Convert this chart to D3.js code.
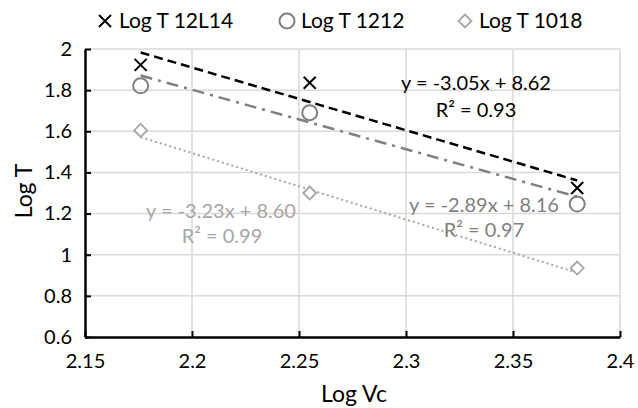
<!DOCTYPE html>
<html><head><meta charset="utf-8">
<script src="https://cdn.jsdelivr.net/npm/d3@7"></script>
<style>body{margin:0;background:#fff}svg{display:block}text{font-family:Lato,"Open Sans",sans-serif}</style>
</head><body><svg id="c" width="638" height="408"></svg>
<script>
const logVc = [2.176, 2.255, 2.380];
const seriesNames = ["Log T 12L14", "Log T 1212", "Log T 1018"];
const logT12L14 = [1.923, 1.836, 1.324];
const logT1212 = [1.821, 1.690, 1.246];
const logT1018 = [1.604, 1.300, 0.935];
const slopes = [-3.05, -2.89, -3.23];
const intercepts = [8.62, 8.16, 8.60];
const r2 = ["0.93", "0.97", "0.99"];
const xTicks = [2.15, 2.2, 2.25, 2.3, 2.35, 2.4];
const yTicks = [0.6, 0.8, 1, 1.2, 1.4, 1.6, 1.8, 2];

const svg = d3.select("#c");
const x = d3.scaleLinear().domain([2.15, 2.4]).range([85, 620]);
const y = d3.scaleLinear().domain([0.6, 2]).range([337, 49]);
const colors = ["#000000", "#7f7f7f", "#a6a6a6"];
const data = [logT12L14, logT1212, logT1018];

// grid
svg.append("g").selectAll("line").data(xTicks.slice(1)).join("line")
  .attr("x1", d => x(d)).attr("x2", d => x(d)).attr("y1", y(2)).attr("y2", y(0.6))
  .attr("stroke", "#d9d9d9").attr("stroke-width", 1.5);
svg.append("g").selectAll("line").data(yTicks.slice(1)).join("line")
  .attr("x1", x(2.15)).attr("x2", x(2.4)).attr("y1", d => y(d)).attr("y2", d => y(d))
  .attr("stroke", "#d9d9d9").attr("stroke-width", 1.5);

// axes
const xa = svg.append("g").attr("transform", `translate(0,${y(0.6)})`)
  .call(d3.axisBottom(x).tickValues(xTicks).tickSizeInner(-6).tickSizeOuter(0).tickPadding(17).tickFormat(d3.format("")));
const ya = svg.append("g").attr("transform", `translate(${x(2.15)},0)`)
  .call(d3.axisLeft(y).tickValues(yTicks).tickSizeInner(-6).tickSizeOuter(0).tickPadding(13).tickFormat(d3.format("")));
[xa, ya].forEach(a => {
  a.select(".domain").attr("stroke", "#000").attr("stroke-width", 2.5);
  a.selectAll(".tick line").attr("stroke", "#000").attr("stroke-width", 2);
  a.selectAll(".tick text").attr("font-size", 20).attr("fill", "#000").style("font-family", "Lato");
});

// trendlines
const dashes = ["9,5", "12,6,3,6", "2,3"];
const widths = [2.5, 2.5, 2];
slopes.forEach((m, i) => {
  const x0 = d3.min(logVc), x1 = d3.max(logVc);
  svg.append("line").attr("x1", x(x0)).attr("y1", y(m * x0 + intercepts[i]))
    .attr("x2", x(x1)).attr("y2", y(m * x1 + intercepts[i]))
    .attr("stroke", colors[i]).attr("stroke-width", widths[i]).attr("stroke-dasharray", dashes[i]);
});

// markers
function marker(g, type, cx, cy, col) {
  if (type === 0) {
    const s = 6;
    g.append("path").attr("d", `M${cx - s},${cy - s}L${cx + s},${cy + s}M${cx - s},${cy + s}L${cx + s},${cy - s}`)
      .attr("stroke", col).attr("stroke-width", 2).attr("fill", "none");
  } else if (type === 1) {
    g.append("circle").attr("cx", cx).attr("cy", cy).attr("r", 7.5).attr("fill", "none")
      .attr("stroke", col).attr("stroke-width", 2);
  } else {
    const s = 6.5;
    g.append("path").attr("d", `M${cx},${cy - s}L${cx + s},${cy}L${cx},${cy + s}L${cx - s},${cy}Z`)
      .attr("fill", "#fff").attr("stroke", col).attr("stroke-width", 1.8);
  }
}
const mg = svg.append("g");
data.forEach((arr, i) => arr.forEach((v, j) => marker(mg, i, x(logVc[j]), y(v), colors[i])));

// equations
const eqPos = [[476, 90, 476, 117], [484, 212, 484, 237], [221, 218, 222, 243]];
const eqCol = ["#000", "#7f7f7f", "#a6a6a6"];
slopes.forEach((m, i) => {
  const p = eqPos[i];
  svg.append("text").attr("x", p[0]).attr("y", p[1]).attr("text-anchor", "middle")
    .attr("font-size", 20).attr("fill", eqCol[i])
    .text(`y = ${m.toFixed(2)}x + ${intercepts[i].toFixed(2)}`);
  svg.append("text").attr("x", p[2]).attr("y", p[3]).attr("text-anchor", "middle")
    .attr("font-size", 20).attr("fill", eqCol[i])
    .text(`R² = ${r2[i]}`);
});

// legend
const legX = [105, 287, 465];
seriesNames.forEach((n, i) => {
  marker(svg, i, legX[i], 21, colors[i]);
  svg.append("text").attr("x", legX[i] + 14).attr("y", 28).attr("font-size", 21).attr("fill", "#000").text(n);
});

// axis titles
svg.append("text").attr("x", 354).attr("y", 402).attr("text-anchor", "middle").attr("font-size", 23).text("Log Vc");
svg.append("text").attr("transform", "translate(32,191) rotate(-90)").attr("text-anchor", "middle").attr("font-size", 23).text("Log T");
</script></body></html>
